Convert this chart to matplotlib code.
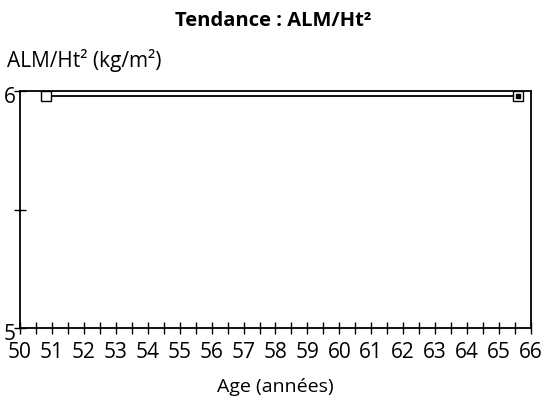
import numpy as np
import matplotlib.pyplot as plt
import matplotlib.transforms as mtransforms
from matplotlib import rcParams
from matplotlib.ticker import MultipleLocator

rcParams['font.family'] = ['Open Sans', 'DejaVu Sans']

# data
ages = [50.8, 65.6]
alm_ht2 = [5.98, 5.98]
x_ticks = list(range(50, 67))
y_ticks = [5, 6]

fig = plt.figure(figsize=(5.46, 4.12), dpi=100)
ax = fig.add_axes([0.0366, 0.204, 0.9359, 0.575])

ax.plot(ages, alm_ht2, color='k', lw=1.3, zorder=3)
ax.plot(ages, alm_ht2, ls='none', marker='s', ms=7, mfc='white', mec='k', mew=1.0, zorder=4)
ax.plot(ages[-1:], alm_ht2[-1:], ls='none', marker='s', ms=3, color='k', zorder=5)

ax.set_xlim(50, 66)
ax.set_ylim(5, 6)
ax.set_xticks(x_ticks)
ax.xaxis.set_minor_locator(MultipleLocator(0.5))
ax.set_yticks(y_ticks)
ax.yaxis.set_minor_locator(MultipleLocator(0.5))

ax.tick_params(which='both', direction='inout', length=8, width=1, labelsize=15, colors='k')
ax.tick_params(axis='x', pad=6)
ax.tick_params(axis='y', pad=-1)
ax.tick_params(which='minor', labelbottom=False)

# y labels sit a little below their ticks in the original
shift = mtransforms.ScaledTranslation(0, -4 / 100, fig.dpi_scale_trans)
for lab in ax.get_yticklabels():
    lab.set_transform(lab.get_transform() + shift)

for sp in ax.spines.values():
    sp.set_linewidth(1.3)

ax.set_xlabel('Age (années)', fontsize=14, labelpad=11)
fig.text(0.5, 0.948, 'Tendance : ALM/Ht²', ha='center', va='center', fontsize=14.5, fontweight='bold')
fig.text(0.013, 0.852, 'ALM/Ht² (kg/m²)', ha='left', va='center', fontsize=15)

fig.savefig('out.png', dpi=100)
